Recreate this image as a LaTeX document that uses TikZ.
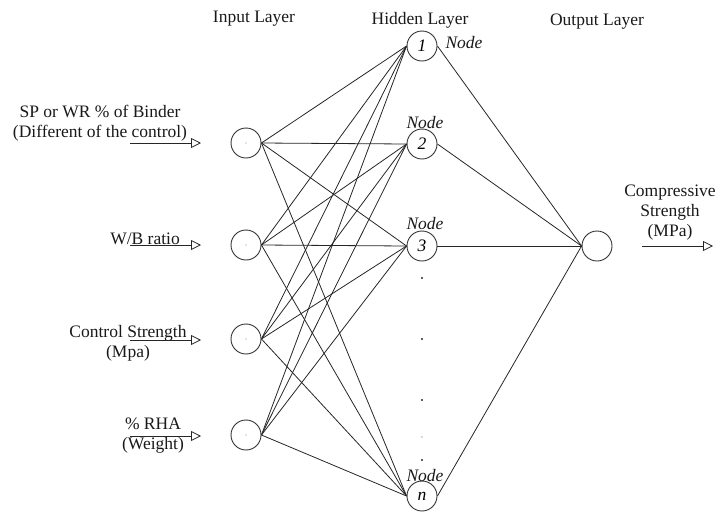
\documentclass[tikz,border=0pt]{standalone}
\usepackage{fontspec}
\setmainfont{Liberation Serif}
\usetikzlibrary{arrows.meta}
\begin{document}
\begin{tikzpicture}[x=1pt,y=-1pt,
  font=\fontsize{17.5}{20}\selectfont,
  neuron/.style={circle, draw=black!80, line width=0.9pt, minimum size=30pt, inner sep=0pt},
  conn/.style={line width=0.8pt, draw=black!85},
  inarrow/.style={line width=0.8pt, draw=black!85, -{Triangle[open,length=10pt,width=10pt]}},
  lbl/.style={align=center, inner sep=0pt, text=black!90},
  nodelbl/.style={font=\fontsize{17.5}{20}\selectfont\itshape, inner sep=0pt, text=black!90},
  dotstyle/.style={fill=black!85}]
\useasboundingbox (0,0) rectangle (717,512);

% layer titles
\node[lbl] (tin) at (254,19) {Input Layer};
\node[lbl] (thid) at (420,20) {Hidden Layer};
\node[lbl] (tout) at (597,22) {Output Layer};

% input neurons
\node[neuron] (i1) at (246,143) {};
\node[neuron] (i2) at (246,245) {};
\node[neuron] (i3) at (246,339) {};
\node[neuron] (i4) at (246,435) {};
\foreach \i in {1,...,4} \fill[black!45] (i\i.center) circle (0.6pt);

% hidden neurons
\node[neuron] (h1) at (422,46) {\itshape 1};
\node[neuron] (h2) at (422,144) {\itshape 2};
\node[neuron] (h3) at (422,246) {\itshape 3};
\node[neuron] (hn) at (422,496) {\itshape n};

% output neuron
\node[neuron] (o) at (597,246) {};

% connections
\foreach \i in {1,...,4}
  \foreach \h in {1,2,3,n}
    \draw[conn] (i\i.east) -- (h\h.west);
\foreach \h in {1,2,3,n}
  \draw[conn] (h\h.east) -- (o.west);

% "Node" labels
\node[nodelbl] (n1) at (464,43) {Node};
\node[nodelbl] (n2) at (425,123) {Node};
\node[nodelbl] (n3) at (425,224) {Node};
\node[nodelbl] (nn) at (425,476) {Node};

% dots
\fill[dotstyle] (422,278) circle (1.1pt);
\fill[dotstyle] (422,339) circle (1.1pt);
\fill[dotstyle] (422,400) circle (1.1pt);
\fill[black!30] (422,437) circle (0.9pt);
\fill[dotstyle] (422,460) circle (1.1pt);

% input labels
\node[lbl] (l1) at (100,123) {SP or WR \% of Binder\\(Different of the control)};
\node[lbl] (l2) at (145,239) {W/B ratio};
\node[lbl] (l3) at (128,343) {Control Strength\\(Mpa)};
\node[lbl] (l4) at (153,436) {\% RHA\\(Weight)};

% input arrows
\coordinate (a1s) at (130,143); \coordinate (a1e) at (201,143);
\coordinate (a2s) at (130,245); \coordinate (a2e) at (201,245);
\coordinate (a3s) at (130,340); \coordinate (a3e) at (201,340);
\coordinate (a4s) at (130,436); \coordinate (a4e) at (201,436);
\draw[inarrow] (a1s) -- (a1e);
\draw[inarrow] (a2s) -- (a2e);
\draw[inarrow] (a3s) -- (a3e);
\draw[inarrow] (a4s) -- (a4e);

% output label and arrow
\node[lbl] (lo) at (670,213) {Compressive\\Strength\\(MPa)};
\coordinate (aos) at (642,246); \coordinate (aoe) at (713,246);
\draw[inarrow] (aos) -- (aoe);
\end{tikzpicture}
\end{document}
